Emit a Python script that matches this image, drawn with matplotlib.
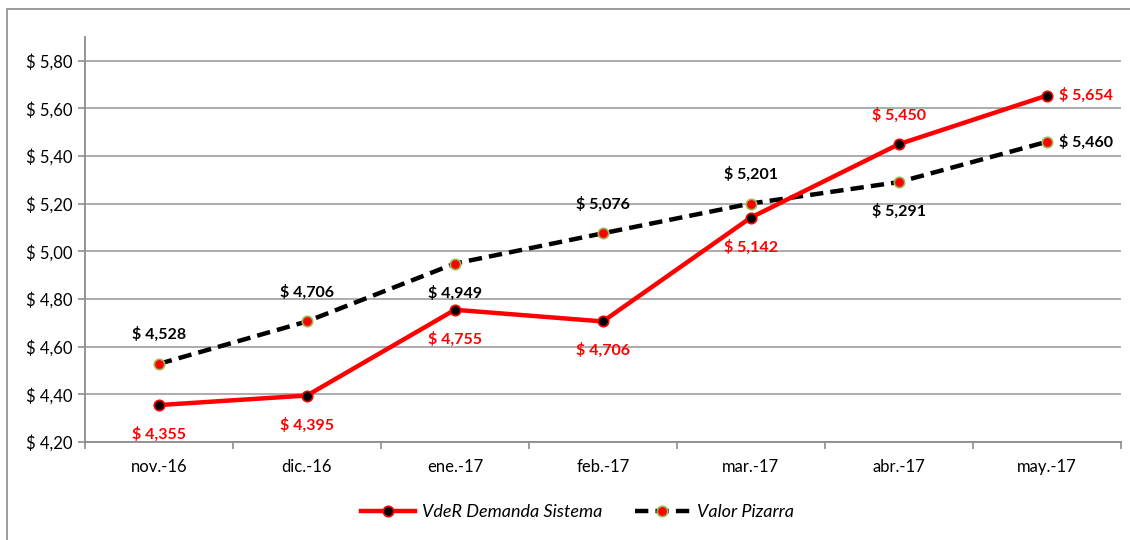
import numpy as np
import matplotlib
matplotlib.use("Agg")
import matplotlib.pyplot as plt
from matplotlib.patches import Rectangle
from matplotlib.ticker import FixedLocator, NullFormatter

plt.rcParams['font.family'] = ['Lato', 'DejaVu Sans']

months = ['nov.-16', 'dic.-16', 'ene.-17', 'feb.-17', 'mar.-17', 'abr.-17', 'may.-17']
vder = [4.355, 4.395, 4.755, 4.706, 5.142, 5.450, 5.654]
pizarra = [4.528, 4.706, 4.949, 5.076, 5.201, 5.291, 5.460]
y_ticks = [4.20, 4.40, 4.60, 4.80, 5.00, 5.20, 5.40, 5.60, 5.80]

# where each data label sits relative to its point
vder_pos = ['below', 'below', 'below', 'below', 'below', 'above', 'right']
piz_pos = ['above', 'above', 'below', 'above', 'above', 'below', 'right']

fig = plt.figure(figsize=(11.3, 5.4), dpi=100)
ax = fig.add_axes([0.0752, 0.1815, 0.9166, 0.75])

x = np.arange(len(months))

ax.plot(x, vder, color='#ff0000', lw=3.2, marker='o', ms=7.5,
        mfc='black', mec='#ff0000', mew=1.2, label='VdeR Demanda Sistema', zorder=4)
ax.plot(x, pizarra, color='black', lw=3.2, ls=(0, (3, 1.6)), marker='o', ms=7.5,
        mfc='#ff0000', mec='#9bbb59', mew=1.2, label='Valor Pizarra', zorder=3)


def fmt(v):
    return '$ ' + f'{v:.3f}'.replace('.', ',')


def put(xi, v, pos, color):
    if pos == 'above':
        off, ha = (0, 21), 'center'
    elif pos == 'below':
        off, ha = (0, -21), 'center'
    else:
        off, ha = (9, 0), 'left'
    ax.annotate(fmt(v), (xi, v), xytext=off, textcoords='offset points',
                ha=ha, va='center', color=color, fontsize=11.5, fontweight='bold')


for xi, v, p in zip(x, vder, vder_pos):
    put(xi, v, p, '#ff0000')
for xi, v, p in zip(x, pizarra, piz_pos):
    put(xi, v, p, 'black')

ax.set_xlim(-0.5, len(months) - 0.5)
ax.set_ylim(4.20, 5.90)
ax.set_yticks(y_ticks)
ax.set_yticklabels(['$ ' + f'{t:.2f}'.replace('.', ',') for t in y_ticks])
ax.set_xticks(x)
ax.set_xticklabels(months)
ax.xaxis.set_minor_locator(FixedLocator(np.arange(-0.5, len(months), 1.0)))
ax.xaxis.set_minor_formatter(NullFormatter())

ax.grid(axis='y', color='#a6a6a6', lw=1.3)
ax.set_axisbelow(True)
ax.tick_params(axis='x', which='major', length=0, pad=12, labelsize=12)
ax.tick_params(axis='x', which='minor', length=5, color='#8c8c8c', width=1.2)
ax.tick_params(axis='y', length=5, color='#8c8c8c', width=1.2, labelsize=12, pad=4)
for s in ['top', 'right']:
    ax.spines[s].set_visible(False)
for s in ['left', 'bottom']:
    ax.spines[s].set_color('#8c8c8c')
    ax.spines[s].set_linewidth(1.3)

leg = fig.legend(loc='center', bbox_to_anchor=(0.511, 0.052), ncol=2, frameon=False,
                 prop={'style': 'italic', 'size': 13}, handlelength=3.0,
                 handletextpad=0.4, columnspacing=1.8)

# outer chart frame
fig.patches.append(Rectangle((0.0062, -0.05), 1.1, 1.033, transform=fig.transFigure,
                             fill=False, ec='#8c8c8c', lw=1.2))

fig.savefig('out.png', dpi=100)
